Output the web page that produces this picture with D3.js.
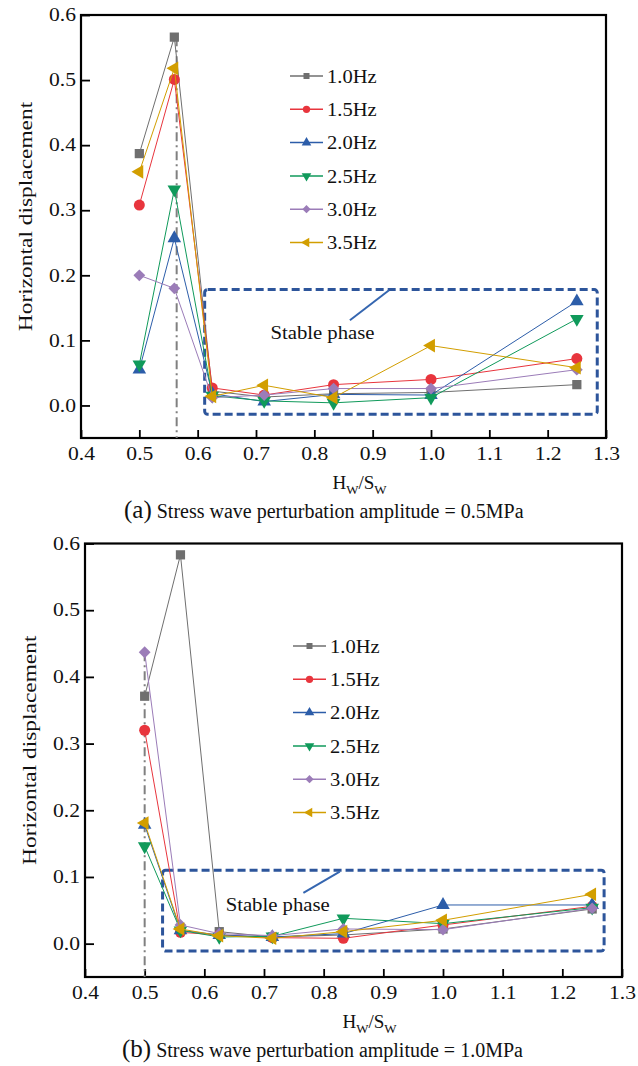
<!DOCTYPE html>
<html>
<head>
<meta charset="utf-8">
<script src="https://cdn.jsdelivr.net/npm/d3@7"></script>
<style>
  body { margin: 0; background: #fff; }
  text { font-family: "Liberation Serif", "Times New Roman", serif; fill: #111; }
</style>
</head>
<body>
<div id="canvas"></div>
<script>
const width = 638;
const height = 1066;

// H_W/S_W values of the models
const hwSw = [0.5, 0.56, 0.625, 0.714, 0.833, 1.0, 1.25];
const freqLabels = ['1.0Hz', '1.5Hz', '2.0Hz', '2.5Hz', '3.0Hz', '3.5Hz'];
const xTicks = [0.4, 0.5, 0.6, 0.7, 0.8, 0.9, 1.0, 1.1, 1.2, 1.3];
const yTicks = [0.0, 0.1, 0.2, 0.3, 0.4, 0.5, 0.6];

// (a) amplitude 0.5MPa, one row per frequency
const dispA = [
  [0.387, 0.566, 0.022, 0.013, 0.018, 0.020, 0.032],
  [0.308, 0.501, 0.027, 0.016, 0.032, 0.040, 0.072],
  [0.055, 0.257, 0.018, 0.006, 0.017, 0.016, 0.160],
  [0.063, 0.332, 0.015, 0.007, 0.004, 0.012, 0.133],
  [0.200, 0.180, 0.012, 0.016, 0.026, 0.026, 0.055],
  [0.359, 0.518, 0.014, 0.031, 0.012, 0.092, 0.058]
];

// (b) amplitude 1.0MPa
const dispB = [
  [0.371, 0.583, 0.018, 0.010, 0.013, 0.022, 0.052],
  [0.320, 0.017, 0.013, 0.009, 0.008, 0.028, 0.056],
  [0.178, 0.020, 0.013, 0.010, 0.015, 0.058, 0.058],
  [0.146, 0.020, 0.010, 0.011, 0.038, 0.030, 0.054],
  [0.437, 0.028, 0.015, 0.012, 0.022, 0.021, 0.053],
  [0.181, 0.022, 0.012, 0.008, 0.018, 0.035, 0.074]
];

const colors = ['#6f6f6f', '#e8353d', '#2c5da9', '#109a5b', '#9b7cb8', '#d29e00'];
const markers = [
  {type: d3.symbolSquare, rot: 0, size: 85, leg: 36},
  {type: d3.symbolCircle, rot: 0, size: 95, leg: 42},
  {type: d3.symbolTriangle, rot: 0, size: 80, leg: 40},
  {type: d3.symbolTriangle, rot: 180, size: 80, leg: 40},
  {type: d3.symbolSquare, rot: 45, size: 70, leg: 34},
  {type: d3.symbolTriangle, rot: -90, size: 80, leg: 40}
];

const svg = d3.select('#canvas').append('svg')
  .attr('width', width)
  .attr('height', height);

function stretch(sel, k) {
  sel.each(function () {
    const l = this.getComputedTextLength();
    d3.select(this).attr('textLength', l * k).attr('lengthAdjust', 'spacingAndGlyphs');
  });
}

function drawPanel(p) {
  const x = d3.scaleLinear().domain([0.4, 1.3]).range([p.left, p.right]);
  const y = d3.scaleLinear().domain([-0.05, 0.6]).range([p.bottom, p.top]);
  const g = svg.append('g');

  const xAxis = d3.axisBottom(x).tickValues(xTicks).tickFormat(d3.format('.1f'))
    .tickSize(-8).tickPadding(9);
  const gx = g.append('g').attr('transform', `translate(0,${p.bottom})`).call(xAxis);
  const yAxis = d3.axisLeft(y).tickValues(yTicks).tickFormat(d3.format('.1f'))
    .tickSize(-9).tickPadding(5);
  const gy = g.append('g').attr('transform', `translate(${p.left},0)`).call(yAxis);
  [gx, gy].forEach(a => {
    a.select('.domain').remove();
    a.selectAll('line').attr('stroke', '#000').attr('stroke-width', 1.8);
    a.selectAll('text').attr('font-size', 18).attr('font-family', null).attr('fill', '#111');
    stretch(a.selectAll('text'), 1.2);
  });

  g.append('rect')
    .attr('x', p.left).attr('y', p.top)
    .attr('width', p.right - p.left).attr('height', p.bottom - p.top)
    .attr('fill', 'none').attr('stroke', '#000').attr('stroke-width', 2.2);

  // dash dot guide
  g.append('line')
    .attr('x1', x(p.dashX)).attr('x2', x(p.dashX))
    .attr('y1', y(p.dashTop)).attr('y2', p.bottom)
    .attr('stroke', '#808080').attr('stroke-width', 2)
    .attr('stroke-dasharray', '9,4,2,4');

  // stable phase box
  g.append('rect')
    .attr('x', x(p.box[0])).attr('y', y(p.box[3]))
    .attr('width', x(p.box[1]) - x(p.box[0])).attr('height', y(p.box[2]) - y(p.box[3]))
    .attr('rx', 3)
    .attr('fill', 'none').attr('stroke', '#2d559b').attr('stroke-width', 3)
    .attr('stroke-dasharray', '8,4');

  g.append('line')
    .attr('x1', x(p.arrow[0])).attr('y1', y(p.arrow[1]))
    .attr('x2', x(p.arrow[2])).attr('y2', y(p.arrow[3]))
    .attr('stroke', '#3566b0').attr('stroke-width', 2);
  const st = g.append('text')
    .attr('x', x(p.label[0])).attr('y', y(p.label[1]))
    .attr('dy', '0.35em').attr('text-anchor', 'middle')
    .attr('font-size', 18.5).text('Stable phase');
  stretch(st, 1.12);

  const line = d3.line().x((d, i) => x(hwSw[i])).y(d => y(d));

  p.data.forEach((vals, s) => {
    g.append('path').attr('d', line(vals))
      .attr('fill', 'none').attr('stroke', colors[s]).attr('stroke-width', 1);
    const m = markers[s];
    const sym = d3.symbol().type(m.type).size(m.size);
    g.selectAll(null).data(vals).join('path')
      .attr('d', sym)
      .attr('transform', (d, i) => `translate(${x(hwSw[i])},${y(d)}) rotate(${m.rot})`)
      .attr('fill', colors[s]);
  });

  // legend
  const leg = g.append('g');
  freqLabels.forEach((name, s) => {
    const ly = p.legY + s * p.legStep;
    leg.append('line')
      .attr('x1', p.legX).attr('x2', p.legX + 33)
      .attr('y1', ly).attr('y2', ly)
      .attr('stroke', colors[s]).attr('stroke-width', 1.5);
    const m = markers[s];
    leg.append('path')
      .attr('d', d3.symbol().type(m.type).size(m.leg))
      .attr('transform', `translate(${p.legX + 16.5},${ly}) rotate(${m.rot})`)
      .attr('fill', colors[s]);
    const t = leg.append('text')
      .attr('x', p.legX + 37).attr('y', ly).attr('dy', '0.35em')
      .attr('font-size', 19).text(name);
    stretch(t, 1.08);
  });

  // axis titles
  const xt = g.append('text')
    .attr('x', (p.left + p.right) / 2 + 16).attr('y', p.bottom + 51)
    .attr('text-anchor', 'middle').attr('font-size', 19);
  xt.append('tspan').text('H');
  xt.append('tspan').attr('font-size', 13).attr('dy', 5).text('W');
  xt.append('tspan').attr('dy', -5).text('/S');
  xt.append('tspan').attr('font-size', 13).attr('dy', 5).text('W');

  const yt = g.append('text')
    .attr('transform', `translate(${p.left - 56},${(p.top + p.bottom) / 2 - 10}) rotate(-90)`)
    .attr('text-anchor', 'middle').attr('dy', '0.35em')
    .attr('font-size', 19.5).text('Horizontal displacement');
  stretch(yt, 1.2);

  const cap = g.append('text')
    .attr('x', p.capX).attr('y', p.bottom + 80);
  cap.append('tspan').attr('font-size', 25).text(p.capTag);
  cap.append('tspan').attr('font-size', 20).text(' Stress wave perturbation amplitude = ' + p.amp);
}

drawPanel({
  left: 81, right: 606, top: 15, bottom: 438,
  data: dispA,
  dashX: 0.564, dashTop: 0.566,
  box: [0.612, 1.285, -0.0135, 0.178],
  arrow: [0.861, 0.131, 0.928, 0.177],
  label: [0.814, 0.112],
  legX: 290, legY: 76, legStep: 33.3,
  capX: 124, capTag: '(a)', amp: '0.5MPa'
});

drawPanel({
  left: 85, right: 622, top: 543.5, bottom: 977,
  data: dispB,
  dashX: 0.5, dashTop: 0.437,
  box: [0.530, 1.270, -0.011, 0.110],
  arrow: [0.766, 0.076, 0.827, 0.108],
  label: [0.723, 0.059],
  legX: 293, legY: 646, legStep: 33.3,
  capX: 122, capTag: '(b)', amp: '1.0MPa'
});
</script>
</body>
</html>
